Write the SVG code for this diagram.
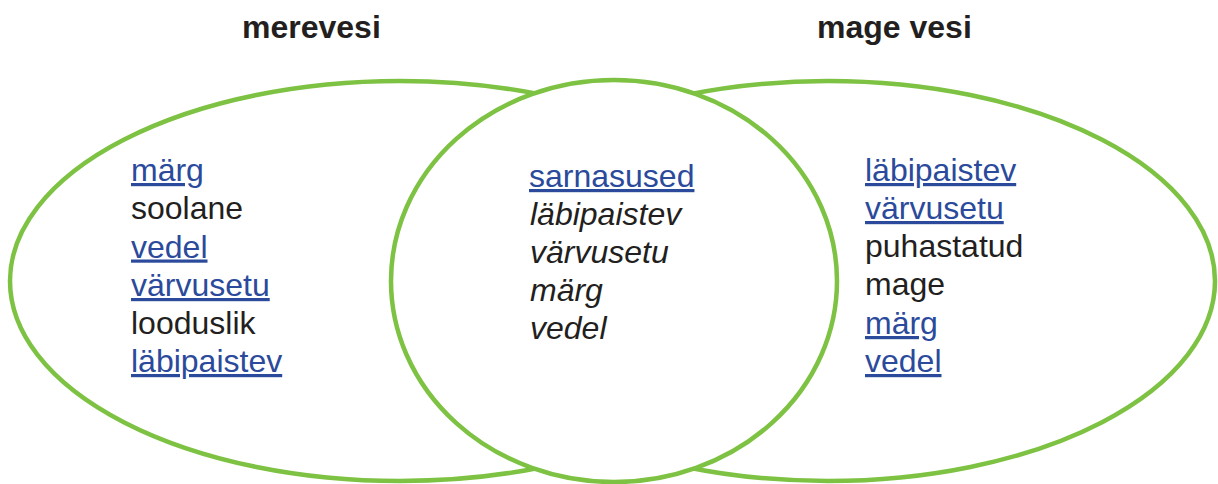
<svg xmlns="http://www.w3.org/2000/svg" width="1218" height="484" viewBox="0 0 1218 484">
<style>
.shape{fill:#ffffff;stroke:#7dc242;stroke-width:4.5}
.t{font-family:"Liberation Sans",Arial,sans-serif;font-size:32px;fill:#231f20}
.lnk{fill:#2b4a9b;text-decoration:underline}
.it{font-style:italic}
.title{font-family:"Liberation Sans",Arial,sans-serif;font-size:32px;font-weight:bold;fill:#231f20}
</style>
<rect width="1218" height="484" fill="#ffffff"/>
<g id="title-merevesi"><text class="title" x="242" y="38">merevesi</text></g>
<g id="title-mage-vesi"><text class="title" x="817" y="38">mage vesi</text></g>
<g id="left">
<ellipse class="shape" cx="400" cy="281" rx="390" ry="200"/>
<text class="t"><tspan class="lnk" x="131" y="181">märg</tspan><tspan x="131" y="219">soolane</tspan><tspan class="lnk" x="131" y="257.5">vedel</tspan><tspan class="lnk" x="131" y="296">värvusetu</tspan><tspan x="131" y="334">looduslik</tspan><tspan class="lnk" x="131" y="372">läbipaistev</tspan></text>
</g>
<g id="right">
<ellipse class="shape" cx="828" cy="281" rx="387" ry="200"/>
<text class="t"><tspan class="lnk" x="865" y="181">läbipaistev</tspan><tspan class="lnk" x="865" y="219">värvusetu</tspan><tspan x="865" y="257">puhastatud</tspan><tspan x="865" y="295">mage</tspan><tspan class="lnk" x="865" y="334">märg</tspan><tspan class="lnk" x="865" y="372">vedel</tspan></text>
</g>
<g id="middle">
<ellipse class="shape" cx="614" cy="281" rx="223" ry="201"/>
<text class="t"><tspan class="lnk" x="529" y="187">sarnasused</tspan><tspan class="it" x="530" y="225">läbipaistev</tspan><tspan class="it" x="530" y="263">värvusetu</tspan><tspan class="it" x="530" y="301">märg</tspan><tspan class="it" x="530" y="339">vedel</tspan></text>
</g>
<g id="connectors"/>
</svg>
